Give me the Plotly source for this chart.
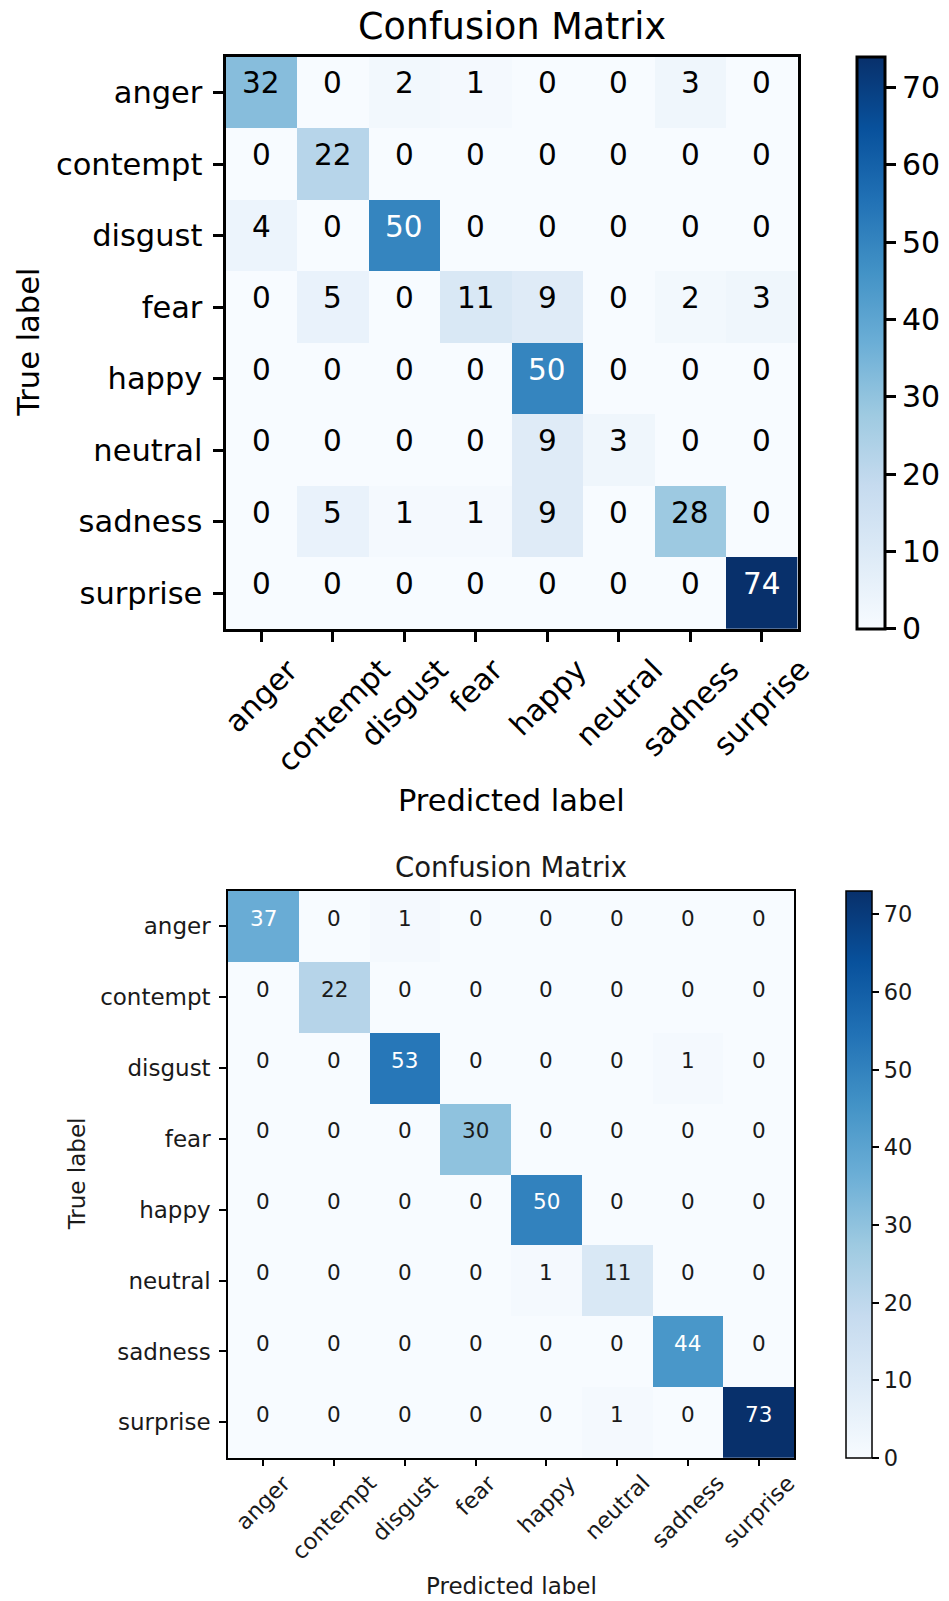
import plotly.graph_objects as go

W, H = 949, 1601

labels = ["anger", "contempt", "disgust", "fear", "happy", "neutral", "sadness", "surprise"]

cm_top = [
    [32, 0, 2, 1, 0, 0, 3, 0],
    [0, 22, 0, 0, 0, 0, 0, 0],
    [4, 0, 50, 0, 0, 0, 0, 0],
    [0, 5, 0, 11, 9, 0, 2, 3],
    [0, 0, 0, 0, 50, 0, 0, 0],
    [0, 0, 0, 0, 9, 3, 0, 0],
    [0, 5, 1, 1, 9, 0, 28, 0],
    [0, 0, 0, 0, 0, 0, 0, 74],
]

cm_bottom = [
    [37, 0, 1, 0, 0, 0, 0, 0],
    [0, 22, 0, 0, 0, 0, 0, 0],
    [0, 0, 53, 0, 0, 0, 1, 0],
    [0, 0, 0, 30, 0, 0, 0, 0],
    [0, 0, 0, 0, 50, 0, 0, 0],
    [0, 0, 0, 0, 1, 11, 0, 0],
    [0, 0, 0, 0, 0, 0, 44, 0],
    [0, 0, 0, 0, 0, 1, 0, 73],
]

colorbar_ticks = [0, 10, 20, 30, 40, 50, 60, 70]
title_text = "Confusion Matrix"
xlabel_text = "Predicted label"
ylabel_text = "True label"

blues = ["#f7fbff", "#deebf7", "#c6dbef", "#9ecae1", "#6baed6",
         "#4292c6", "#2171b5", "#08519c", "#08306b"]
colorscale = [[i / (len(blues) - 1), c] for i, c in enumerate(blues)]

FONT = "DejaVu Sans"


def px_x(v):
    return v / W


def px_y(v):
    return 1 - v / H


panels = [
    dict(cm=cm_top, xa="x", ya="y", ca="coloraxis",
         left=225.5, right=797.7, top=56.7, bottom=629.0,
         cb_left=857.0, cb_thick=28,
         lw=3, ticklen=10, tickw=3, standoff=4,
         fs_title=36.5, fs_tick=30, fs_ytick=30.5, fs_cell=29.5, fs_axis=30.5,
         title_y=26, xlabel_y=800, ylabel_x=29, xtick_top=649,
         cell_shift=9, dark="#000000"),
    dict(cm=cm_bottom, xa="x2", ya="y2", ca="coloraxis2",
         left=228.0, right=794.0, top=891.0, bottom=1457.7,
         cb_left=845.5, cb_thick=26,
         lw=1.5, ticklen=7, tickw=1.5, standoff=4,
         fs_title=27.5, fs_tick=22.5, fs_ytick=23, fs_cell=21.5, fs_axis=23,
         title_y=867, xlabel_y=1586, ylabel_x=77, xtick_top=1467,
         cell_shift=8, dark="#1a1a1a"),
]

fig = go.Figure()
annotations = []
layout = dict(width=W, height=H, margin=dict(l=0, r=0, t=0, b=0),
              paper_bgcolor="white", plot_bgcolor="white",
              font=dict(family=FONT, color="black"), showlegend=False)

n = len(labels)
for k, p in enumerate(panels):
    cm = p["cm"]
    zmax = max(max(r) for r in cm)
    thresh = zmax / 2
    fig.add_trace(go.Heatmap(
        z=cm, x=labels, y=labels, coloraxis=p["ca"],
        xaxis=p["xa"], yaxis=p["ya"], hoverinfo="skip", xgap=0, ygap=0,
    ))
    suffix = "" if k == 0 else "2"
    layout["xaxis" + suffix] = dict(
        domain=[px_x(p["left"]), px_x(p["right"])], anchor=p["ya"],
        range=[-0.5, n - 0.5], autorange=False,
        showline=True, mirror=True, linecolor="black", linewidth=p["lw"],
        ticks="outside", ticklen=p["ticklen"], tickwidth=p["tickw"], tickcolor="black",
        showticklabels=False, showgrid=False, zeroline=False, fixedrange=True,
        type="category", categoryorder="array", categoryarray=labels,
    )
    layout["yaxis" + suffix] = dict(
        domain=[px_y(p["bottom"]), px_y(p["top"])], anchor=p["xa"],
        range=[n - 0.5, -0.5], autorange=False,
        showline=True, mirror=True, linecolor="black", linewidth=p["lw"],
        ticks="outside", ticklen=p["ticklen"], tickwidth=p["tickw"], tickcolor="black",
        ticklabelstandoff=p["standoff"],
        tickfont=dict(family=FONT, size=p["fs_ytick"], color=p["dark"]),
        showgrid=False, zeroline=False, fixedrange=True,
        type="category", categoryorder="array", categoryarray=labels,
    )
    layout[p["ca"]] = dict(
        cmin=0, cmax=zmax, colorscale=colorscale,
        colorbar=dict(
            x=px_x(p["cb_left"]), xanchor="left", xpad=0, ypad=0,
            y=px_y(p["top"]), yanchor="top",
            len=(p["bottom"] - p["top"]) / H, lenmode="fraction",
            thickness=p["cb_thick"], thicknessmode="pixels",
            outlinewidth=p["lw"], outlinecolor="black",
            tickvals=colorbar_ticks, ticks="outside", ticklen=p["ticklen"],
            tickwidth=p["tickw"], tickcolor="black", tickprefix="\u2009",
            tickfont=dict(family=FONT, size=p["fs_tick"], color=p["dark"]),
        ),
    )
    # cell values
    for i, row in enumerate(cm):
        for j, v in enumerate(row):
            annotations.append(dict(
                x=labels[j], y=labels[i], xref=p["xa"], yref=p["ya"],
                text=str(v), showarrow=False, yshift=p["cell_shift"],
                font=dict(family=FONT, size=p["fs_cell"],
                          color="white" if v > thresh else p["dark"]),
            ))
    # rotated x tick labels (centred under ticks)
    for lab in labels:
        annotations.append(dict(
            x=lab, xref=p["xa"], y=px_y(p["xtick_top"]), yref="paper",
            text=lab, showarrow=False, textangle=-45,
            xanchor="center", yanchor="top",
            font=dict(family=FONT, size=p["fs_tick"], color=p["dark"]),
        ))
    cx = (p["left"] + p["right"]) / 2
    annotations.append(dict(
        x=px_x(cx), y=px_y(p["title_y"]), xref="paper", yref="paper",
        text=title_text, showarrow=False, xanchor="center", yanchor="middle",
        font=dict(family=FONT, size=p["fs_title"], color=p["dark"]),
    ))
    annotations.append(dict(
        x=px_x(cx), y=px_y(p["xlabel_y"]), xref="paper", yref="paper",
        text=xlabel_text, showarrow=False, xanchor="center", yanchor="middle",
        font=dict(family=FONT, size=p["fs_axis"], color=p["dark"]),
    ))
    annotations.append(dict(
        x=px_x(p["ylabel_x"]), y=px_y((p["top"] + p["bottom"]) / 2),
        xref="paper", yref="paper",
        text=ylabel_text, showarrow=False, textangle=-90,
        xanchor="center", yanchor="middle",
        font=dict(family=FONT, size=p["fs_axis"], color=p["dark"]),
    ))

layout["annotations"] = annotations
fig.update_layout(**layout)

fig.write_html("out.html", config={"displayModeBar": False},
               post_script="document.body.style.margin='0';")
